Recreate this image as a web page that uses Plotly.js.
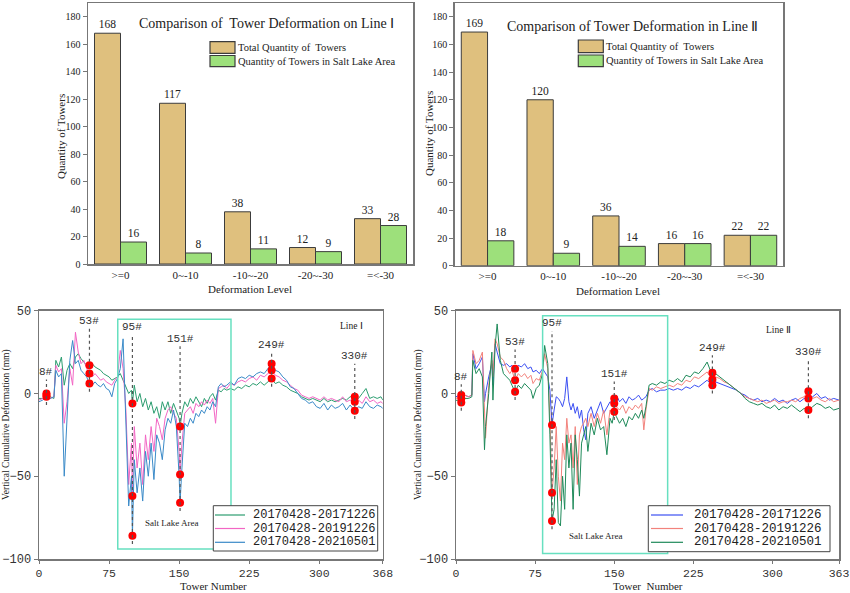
<!DOCTYPE html>
<html><head><meta charset="utf-8">
<script src="https://cdn.plot.ly/plotly-3.0.1.min.js"></script>
<style>html,body{margin:0;padding:0;background:#fff}#chart{width:850px;height:593px}</style>
</head><body><div id="chart"></div>
<script>
// ---------- bar data ----------
const levels = [">=0", "0~-10", "-10~-20", "-20~-30", "=<-30"];
const totalLine1 = [168, 117, 38, 12, 33];
const saltLine1  = [16, 8, 11, 9, 28];
const totalLine2 = [169, 120, 36, 16, 22];
const saltLine2  = [18, 9, 14, 16, 22];
const barNames = ["Total Quantity of  Towers", "Quantity of Towers in Salt Lake Area"];
const periodNames = ["20170428-20171226", "20170428-20191226", "20170428-20210501"];

// ---------- Line I deformation (mm) ----------
const towers1 = [0,4,8,12,16,18,21,24,27,30,
  33,36,39,42,45,48,51,54,57,60,
  63,66,69,72,75,78,81,84,87,90,
  93,96,99,100,102,105,108,111,114,117,
  120,123,126,129,132,135,138,141,144,147,
  150,151,153,156,159,162,165,168,171,174,
  177,180,183,186,189,192,195,198,201,205,
  209,213,217,221,225,229,233,237,241,245,
  249,253,257,261,265,269,273,277,281,285,
  289,293,297,301,305,309,313,317,321,325,
  329,333,338,342,346,350,354,358,362,366,
  368];
const line1_2017 = [-3,-3,0,-2,-3,20,16,22,5,14,
  18,15,22,24,21,19,17,17,18,16,
  15,14,12,11,10,8,9,10,12,8,
  4,0,2,-6,5,-5,0,-8,-3,-10,
  -5,-12,-8,-15,-5,-10,-5,-12,-6,-10,
  -15,-20,-12,-5,-8,-3,-6,-2,-5,-8,
  -3,-6,-2,0,-4,2,1,3,2,3,
  2,4,3,5,4,6,5,7,5,7,
  9,6,7,5,4,2,1,0,-2,-3,
  -4,-3,-4,-5,-3,-5,-4,-5,-4,-3,
  -4,-2,-2,-3,0,3,-3,-2,-3,-2,
  -4];
const line1_2019 = [-4,-3,-1,-3,-2,17,13,15,-18,-5,
  15,5,37,25,18,20,15,12,10,12,
  10,8,9,7,6,5,8,10,26,15,
  -10,-55,-30,-62,-20,-45,-30,-55,-25,-40,
  -20,-35,-15,-20,-28,-15,-10,-8,-12,-15,
  -35,-49,-30,-12,-10,-8,-12,-6,-8,-5,
  -7,-4,-6,-3,-18,3,4,5,3,6,
  5,7,8,7,9,10,8,11,10,12,
  14,11,10,8,7,5,3,2,-1,-2,
  -3,-2,-3,-4,-2,-4,-3,-4,-5,-2,
  -5,-4,-5,-4,-6,-2,-5,-4,-6,-5,
  -6];
const line1_2021 = [-5,-4,-2,-3,-2,14,10,12,-50,-15,
  20,32,18,20,14,12,10,6,5,7,
  5,4,6,3,2,-2,6,9,15,33,
  -20,-68,-50,-86,-40,-60,-45,-65,-35,-50,
  -30,-52,-25,-30,-40,-22,-15,-18,-10,-20,
  -50,-66,-45,-18,-20,-15,-18,-12,-14,-10,
  -12,-8,-10,-5,-8,4,6,4,5,7,
  5,9,10,9,11,10,12,13,12,15,
  18,14,13,10,8,4,3,0,-3,-4,
  -6,-5,-8,-9,-6,-10,-7,-9,-8,-6,
  -10,-7,-10.5,-8,-9,-5,-8,-9,-7,-8,
  -9];
const keyLabels1 = ["8#", "53#", "95#", "151#", "249#", "330#"];
const keyTowers1 = [8, 54, 100, 151, 249, 338];

// ---------- Line II deformation (mm) ----------
const towers2 = [0,3,5,8,12,15,16,19,22,25,
  27,28,31,34,35,37,39,42,45,48,
  51,53,56,59,62,65,68,71,73,76,
  79,82,84,87,89,91,93,95,97,99,
  101,103,105,107,109,111,113,115,117,119,
  121,123,125,128,131,134,137,140,143,146,
  148,150,152,155,158,161,164,167,170,173,
  176,178,180,183,186,190,194,198,202,206,
  210,214,218,222,226,230,234,238,241,243,
  246,250,254,258,262,266,270,274,278,282,
  286,290,294,298,302,306,310,314,318,322,
  326,330,334,338,342,346,350,354,358,363];
const line2_2017 = [-2,-1,-1,-1,-2,-1,24,15,18,22,
  -5,0,10,18,5,30,25,18,17,18,
  16,17,15,17,16,18,15,16,13,14,
  12,15,13,10,2,-19,-10,-2,-3,-5,
  -8,-3,10,-5,-10,-6,-12,-8,-15,-10,
  -22,-28,-12,-8,-15,-10,-5,-12,-8,-5,
  -6,-3,-1,-5,-3,-6,-2,-4,-3,-1,
  -4,-3,-2,2,3,1,2,2,3,2,
  3,2,4,3,5,4,6,8,6,5,
  7,6,5,4,3,2,0,-1,-3,-4,
  -3,-5,-4,-5,-3,-5,-4,-6,-4,-3,
  -5,-3,-3,-2,0,-3,-2,-4,-3,-4];
const line2_2019 = [-3,-2,-3,-1,-2,-1,26,18,20,25,
  -10,-27,5,20,10,33,30,22,20,15,
  12,14,8,12,10,12,9,11,6,9,
  8,14,24,15,-15,-60,-45,-20,-50,-65,
  -30,-40,-15,-30,-25,-45,-20,-55,-25,-20,
  -18,-15,-20,-12,-20,-12,-18,-10,-25,-10,
  -12,-6,-8,-10,-7,-12,-8,-10,-7,-9,
  -6,-22,-10,3,2,4,3,4,5,4,
  6,5,8,7,10,9,11,13,10,8.5,
  10,9,7,6,4,2,0,-2,-3,-4,
  -5,-4,-6,-5,-4,-6,-5,-5,-4,-5,
  -3,-2,1.4,-3,-2,-4,-5,-3,-5,-4];
const line2_2021 = [-4,-5,-5.5,-3,-3,-2,20,12,15,10,
  -34,-20,0,25,-4,28,42,20,12,10,
  8,5,1,5,3,6,4,2,-3,3,
  5,12,29,18,-25,-77,-70,-40,-78,-80,
  -50,-70,-25,-45,-30,-70,-25,-40,-62,-30,
  -25,-20,-35,-18,-25,-15,-22,-20,-37,-15,
  -18,-11,-14,-18,-15,-20,-14,-16,-12,-15,
  -10,-15,-8,5,6,5,7,6,8,7,
  9,7,11,10,13,12,15,19,14,12.5,
  12,10,8,6,4,2,0,-3,-5,-6,
  -7,-6,-8,-9,-7,-10,-8,-9,-7,-9,
  -11,-9,-10,-8,-6,-7,-9,-8,-10,-9];
const keyLabels2 = ["8#", "53#", "95#", "151#", "249#", "330#"];
const keyTowers2 = [5, 56, 91, 150, 243, 334];

// ---------- styling / layout helpers ----------
const W = 850, H = 593;
const P = x => x / W, Q = y => 1 - y / H;
const serif = "Liberation Serif, 'Times New Roman', serif";
const mono = "Liberation Mono, 'DejaVu Sans Mono', monospace";
const TAN = "#DFC07E", GRN = "#9DE07B";
const col1 = ["#2C9D70", "#F266C4", "#3A8AC8"];
const col2 = ["#3B4FF2", "#F2827C", "#1F8A5A"];
const BOX = "#67E0C0";
const labelY1 = [13, 43.7, 40, 33, 29, 22.5];
const labelY2 = [10, 31, 42.3, 11.7, 27.6, 24.8];
const esc = s => s.replace(/</g, "&lt;").replace(/>/g, "&gt;");

const traces = [];
function addBars(total, salt, xa, ya) {
  [[total, TAN, barNames[0]], [salt, GRN, barNames[1]]].forEach(([vals, c, n]) => {
    traces.push({type: "bar", x: levels, y: vals, name: n, xaxis: xa, yaxis: ya,
      marker: {color: c, line: {color: "#3c3c3c", width: 1}},
      texttemplate: "%{y}", textposition: "outside", cliponaxis: false,
      textfont: {family: serif, size: 11.5, color: "#222"}, showlegend: false, hoverinfo: "x+y"});
  });
}
addBars(totalLine1, saltLine1, "x", "y");
addBars(totalLine2, saltLine2, "x2", "y2");

const shapes = [], annotations = [];
function ann(o) { annotations.push(Object.assign({showarrow: false, xanchor: "center", yanchor: "middle"}, o)); }
function addLines(towers, series, colors, xa, ya, keyT, keyL, labY) {
  series.forEach((s, i) => traces.push({type: "scatter", mode: "lines", x: towers, y: s,
    name: periodNames[i], xaxis: xa, yaxis: ya, line: {color: colors[i], width: 1}, showlegend: false}));
  const dx = [], dy = [];
  keyT.forEach((t, k) => {
    const idx = towers.indexOf(t);
    const vals = series.map(s => s[idx]);
    const lo = Math.min(...vals);
    shapes.push({type: "line", xref: xa, yref: ya, x0: t, x1: t, y0: lo - 5, y1: labY[k] - 4.5,
      line: {color: "#555", width: 1.2, dash: "dot"}, layer: "above"});
    vals.forEach(v => { dx.push(t); dy.push(v); });
    ann({xref: xa, yref: ya, x: t, y: labY[k], text: keyL[k], font: {family: mono, size: 11, color: "#333"}});
  });
  traces.push({type: "scatter", mode: "markers", x: dx, y: dy, xaxis: xa, yaxis: ya,
    marker: {color: "#FF0000", size: 8}, showlegend: false});
}
addLines(towers1, [line1_2017, line1_2019, line1_2021], col1, "x3", "y3", keyTowers1, keyLabels1, labelY1);
addLines(towers2, [line2_2017, line2_2019, line2_2021], col2, "x4", "y4", keyTowers2, keyLabels2, labelY2);

// Salt lake boxes
shapes.push({type: "rect", xref: "x3", yref: "y3", x0: 84.3, x1: 205.5, y0: -94, y1: 44.9, line: {color: BOX, width: 1.5}});
shapes.push({type: "rect", xref: "x4", yref: "y4", x0: 82.1, x1: 200.6, y0: -96.7, y1: 46.9, line: {color: BOX, width: 1.5}});
ann({xref: "x3", yref: "y3", x: 141.5, y: -78.5, text: "Salt Lake Area", font: {family: serif, size: 9, color: "#222"}});
ann({xref: "x4", yref: "y4", x: 131.8, y: -86, text: "Salt Lake Area", font: {family: serif, size: 9, color: "#222"}});
ann({xref: "x3", yref: "y3", x: 335, y: 41, text: "Line Ⅰ", font: {family: serif, size: 9.5, color: "#222"}});
ann({xref: "x4", yref: "y4", x: 305.5, y: 38.3, text: "Line Ⅱ", font: {family: serif, size: 9.5, color: "#222"}});

// titles
ann({xref: "paper", yref: "paper", x: P(266.5), y: Q(23.5), text: "Comparison of  Tower Deformation on Line Ⅰ", font: {family: serif, size: 14, color: "#222"}});
ann({xref: "paper", yref: "paper", x: P(633), y: Q(26.7), text: "Comparison of Tower Deformation in Line Ⅱ", font: {family: serif, size: 14, color: "#222"}});

// axis titles
function axTitle(x, y, text, size, rot) {
  ann({xref: "paper", yref: "paper", x: P(x), y: Q(y), text: text, textangle: rot || 0,
    font: {family: serif, size: size, color: "#222"}});
}
axTitle(61, 137, "Quantity of Towers", 11, -90);
axTitle(429, 134, "Quantity of Towers", 11, -90);
axTitle(250, 289, "Deformation Level", 11);
axTitle(618, 291, "Deformation Level", 11);
axTitle(6, 425, "Vertical Cumulative Deformation (mm)", 9.5, -90);
axTitle(418, 425, "Vertical Cumulative Deformation (mm)", 9.5, -90);
axTitle(213, 586, "Tower Number", 11);
axTitle(648, 586, "Tower  Number", 11);

// manual bar legends
function barLegend(x0, rows, textX) {
  [TAN, GRN].forEach((c, i) => {
    const r = rows[i];
    shapes.push({type: "rect", xref: "paper", yref: "paper", x0: P(x0), x1: P(x0 + 25), y0: Q(r[1]), y1: Q(r[0]),
      fillcolor: c, line: {color: "#3c3c3c", width: 1.2}});
    ann({xref: "paper", yref: "paper", x: P(textX), y: Q((r[0] + r[1]) / 2), xanchor: "left",
      text: barNames[i], font: {family: serif, size: 10.5, color: "#222"}});
  });
}
barLegend(210, [[41.7, 53.3], [55.5, 66.7]], 236);
barLegend(578.3, [[40, 52.7], [55, 66.7]], 604);

// manual line legends
function lineLegend(box, lx0, lx1, textX, colors, fs) {
  shapes.push({type: "rect", xref: "paper", yref: "paper", x0: P(box[0]), x1: P(box[2]), y0: Q(box[3]), y1: Q(box[1]),
    fillcolor: "#fff", line: {color: "#444", width: 1}, layer: "above"});
  [515, 528.5, 542.3].forEach((y, i) => {
    shapes.push({type: "line", xref: "paper", yref: "paper", x0: P(lx0), x1: P(lx1), y0: Q(y), y1: Q(y),
      line: {color: colors[i], width: 1.2}, layer: "above"});
    ann({xref: "paper", yref: "paper", x: P(textX), y: Q(y), xanchor: "left", text: periodNames[i],
      font: {family: mono, size: fs, color: "#222"}});
  });
}
lineLegend([213.3, 505.7, 377.7, 551], 215, 245, 250.5, col1, 12);
lineLegend([648.3, 505.7, 830, 551.7], 651, 683, 692, col2, 12.5);

// axes
const frame = {showline: true, mirror: true, linecolor: "#777", linewidth: 1.5, zeroline: false, showgrid: false};
const barX = Object.assign({}, frame, {type: "category", tickvals: levels, ticktext: levels.map(esc),
  ticks: "", tickfont: {family: serif, size: 11, color: "#222"}, range: [-0.5, 4.5]});
const barY = Object.assign({}, frame, {range: [0, 190], tickvals: [0,20,40,60,80,100,120,140,160,180],
  ticks: "outside", ticklen: 4, tickcolor: "#777", tickfont: {family: serif, size: 10, color: "#222"}});
const lineY = Object.assign({}, frame, {range: [-100, 50], tickvals: [-100, -50, 0, 50], ticks: "outside", ticklen: 4,
  tickcolor: "#777", tickfont: {family: mono, size: 12, color: "#333"}});
const lineXcommon = {ticks: "outside", ticklen: 3, tickcolor: "#777", tickfont: {family: mono, size: 11.5, color: "#333"}};

const layout = {
  width: W, height: H, margin: {l: 0, r: 0, t: 0, b: 0}, paper_bgcolor: "#fff", plot_bgcolor: "#fff",
  barmode: "group", bargap: 0.2, bargroupgap: 0, showlegend: false,
  xaxis: Object.assign({}, barX, {domain: [P(88), P(413)], anchor: "y"}),
  yaxis: Object.assign({}, barY, {domain: [Q(264), Q(3)], anchor: "x"}),
  xaxis2: Object.assign({}, barX, {domain: [P(454.7), P(783.3)], anchor: "y2"}),
  yaxis2: Object.assign({}, barY, {domain: [Q(265.7), Q(3)], anchor: "x2"}),
  xaxis3: Object.assign({}, frame, lineXcommon, {domain: [P(39), P(382.8)], anchor: "y3", range: [0, 368],
    tickvals: [0, 75, 150, 225, 300, 368]}),
  yaxis3: Object.assign({}, lineY, {domain: [Q(559), Q(310.7)], anchor: "x3"}),
  xaxis4: Object.assign({}, frame, lineXcommon, {domain: [P(456), P(839)], anchor: "y4", range: [0, 363],
    tickvals: [0, 75, 150, 225, 300, 363]}),
  yaxis4: Object.assign({}, lineY, {domain: [Q(559), Q(310.7)], anchor: "x4"}),
  shapes: shapes, annotations: annotations
};
Plotly.newPlot("chart", traces, layout, {staticPlot: true, displayModeBar: false});
</script></body></html>
